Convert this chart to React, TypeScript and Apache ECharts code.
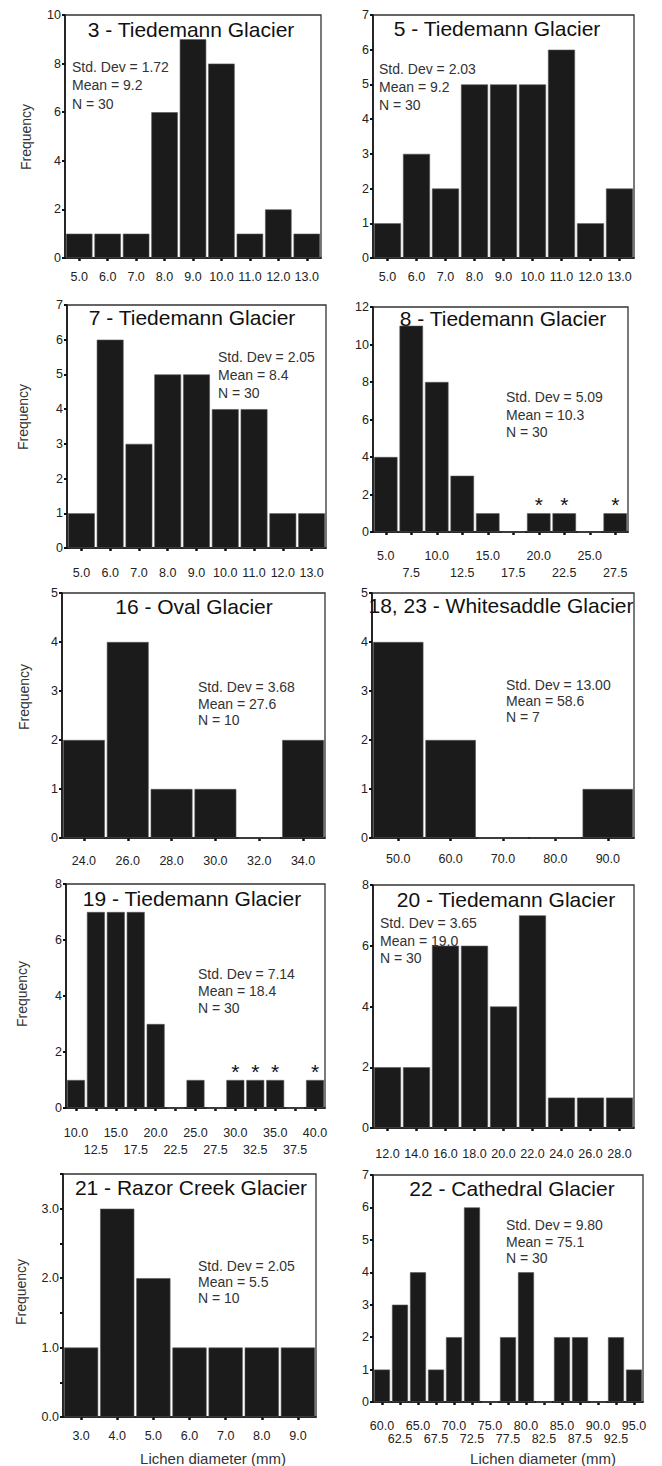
import React, { useEffect, useRef } from "react";
import * as echarts from "echarts";

// ---------- DATA ----------
const p1Bins = ["5.0", "6.0", "7.0", "8.0", "9.0", "10.0", "11.0", "12.0", "13.0"];
const p1Freq = [1, 1, 1, 6, 9, 8, 1, 2, 1];
const p1Stats = ["Std. Dev = 1.72", "Mean = 9.2", "N = 30"];

const p2Bins = ["5.0", "6.0", "7.0", "8.0", "9.0", "10.0", "11.0", "12.0", "13.0"];
const p2Freq = [1, 3, 2, 5, 5, 5, 6, 1, 2];
const p2Stats = ["Std. Dev = 2.03", "Mean = 9.2", "N = 30"];

const p3Bins = ["5.0", "6.0", "7.0", "8.0", "9.0", "10.0", "11.0", "12.0", "13.0"];
const p3Freq = [1, 6, 3, 5, 5, 4, 4, 1, 1];
const p3Stats = ["Std. Dev = 2.05", "Mean = 8.4", "N = 30"];

const p4Bins = ["5.0", "7.5", "10.0", "12.5", "15.0", "17.5", "20.0", "22.5", "25.0", "27.5"];
const p4Freq = [4, 11, 8, 3, 1, 0, 1, 1, 0, 1];
const p4Outliers = ["20.0", "22.5", "27.5"];
const p4Stats = ["Std. Dev = 5.09", "Mean = 10.3", "N = 30"];

const p5Bins = ["24.0", "26.0", "28.0", "30.0", "32.0", "34.0"];
const p5Freq = [2, 4, 1, 1, 0, 2];
const p5Stats = ["Std. Dev = 3.68", "Mean = 27.6", "N = 10"];

const p6Bins = ["50.0", "60.0", "70.0", "80.0", "90.0"];
const p6Freq = [4, 2, 0, 0, 1];
const p6Stats = ["Std. Dev = 13.00", "Mean = 58.6", "N = 7"];

const p7Bins = ["10.0", "12.5", "15.0", "17.5", "20.0", "22.5", "25.0", "27.5", "30.0", "32.5", "35.0", "37.5", "40.0"];
const p7Freq = [1, 7, 7, 7, 3, 0, 1, 0, 1, 1, 1, 0, 1];
const p7Outliers = ["30.0", "32.5", "35.0", "40.0"];
const p7Stats = ["Std. Dev = 7.14", "Mean = 18.4", "N = 30"];

const p8Bins = ["12.0", "14.0", "16.0", "18.0", "20.0", "22.0", "24.0", "26.0", "28.0"];
const p8Freq = [2, 2, 6, 6, 4, 7, 1, 1, 1];
const p8Stats = ["Std. Dev = 3.65", "Mean = 19.0", "N = 30"];

const p9Bins = ["3.0", "4.0", "5.0", "6.0", "7.0", "8.0", "9.0"];
const p9Freq = [1, 3, 2, 1, 1, 1, 1];
const p9Stats = ["Std. Dev = 2.05", "Mean = 5.5", "N = 10"];

const p10Bins = ["60.0", "62.5", "65.0", "67.5", "70.0", "72.5", "75.0", "77.5", "80.0", "82.5", "85.0", "87.5", "90.0", "92.5", "95.0"];
const p10Freq = [1, 3, 4, 1, 2, 6, 0, 2, 4, 0, 2, 2, 0, 2, 1];
const p10Stats = ["Std. Dev = 9.80", "Mean = 75.1", "N = 30"];

const titles = [
  "3 - Tiedemann Glacier",
  "5 - Tiedemann Glacier",
  "7 - Tiedemann Glacier",
  "8 - Tiedemann Glacier",
  "16 - Oval Glacier",
  "18, 23 - Whitesaddle Glacier",
  "19 - Tiedemann Glacier",
  "20 - Tiedemann Glacier",
  "21 - Razor Creek Glacier",
  "22 - Cathedral Glacier",
];
const yAxisTitle = "Frequency";
const xAxisTitle = "Lichen diameter (mm)";

// ---------- LAYOUT ----------
const FONT = "'Liberation Sans', Arial, Helvetica, sans-serif";

type Panel = {
  bins: string[];
  freq: number[];
  stats: string[];
  outliers: string[];
  yMax: number;
  yInt: number;
  yDec: number;
  grid: { left: number; top: number; width: number; height: number };
  title: [number, number];
  statPos: [number, number, number];
  labelOff: number;
  twoRow: number;
  freqPos: [number, number] | null;
  xName: [number, number] | null;
};

const panels: Panel[] = [
  { bins: p1Bins, freq: p1Freq, stats: p1Stats, outliers: [], yMax: 10, yInt: 2, yDec: 0,
    grid: { left: 65, top: 15, width: 256, height: 243 }, title: [191, 29], statPos: [72, 67, 18.3],
    labelOff: 18.5, twoRow: 0, freqPos: [26, 137], xName: null },
  { bins: p2Bins, freq: p2Freq, stats: p2Stats, outliers: [], yMax: 7, yInt: 1, yDec: 0,
    grid: { left: 373, top: 15, width: 261, height: 243 }, title: [497, 28], statPos: [379, 69, 18],
    labelOff: 18.5, twoRow: 0, freqPos: null, xName: null },
  { bins: p3Bins, freq: p3Freq, stats: p3Stats, outliers: [], yMax: 7, yInt: 1, yDec: 0,
    grid: { left: 67, top: 305, width: 259, height: 243 }, title: [192, 317], statPos: [218, 357, 18],
    labelOff: 25, twoRow: 0, freqPos: [23, 417], xName: null },
  { bins: p4Bins, freq: p4Freq, stats: p4Stats, outliers: p4Outliers, yMax: 12, yInt: 2, yDec: 0,
    grid: { left: 373, top: 307, width: 255, height: 225 }, title: [503, 318], statPos: [506, 397, 17.5],
    labelOff: 24.3, twoRow: 16.5, freqPos: null, xName: null },
  { bins: p5Bins, freq: p5Freq, stats: p5Stats, outliers: [], yMax: 5, yInt: 1, yDec: 0,
    grid: { left: 62, top: 593, width: 263, height: 245 }, title: [194, 606], statPos: [198, 687, 16.5],
    labelOff: 23.4, twoRow: 0, freqPos: [24, 697], xName: null },
  { bins: p6Bins, freq: p6Freq, stats: p6Stats, outliers: [], yMax: 5, yInt: 1, yDec: 0,
    grid: { left: 372, top: 593, width: 262, height: 245 }, title: [501, 605], statPos: [506, 685, 16],
    labelOff: 21, twoRow: 0, freqPos: null, xName: null },
  { bins: p7Bins, freq: p7Freq, stats: p7Stats, outliers: p7Outliers, yMax: 8, yInt: 2, yDec: 0,
    grid: { left: 66, top: 884, width: 259, height: 224 }, title: [192, 898], statPos: [198, 974, 17],
    labelOff: 25, twoRow: 16.7, freqPos: [22, 994], xName: null },
  { bins: p8Bins, freq: p8Freq, stats: p8Stats, outliers: [], yMax: 8, yInt: 2, yDec: 0,
    grid: { left: 373, top: 885, width: 261, height: 243 }, title: [506, 899], statPos: [380, 923, 17.5],
    labelOff: 25.6, twoRow: 0, freqPos: null, xName: null },
  { bins: p9Bins, freq: p9Freq, stats: p9Stats, outliers: [], yMax: 3.5, yInt: 0.5, yDec: 1,
    grid: { left: 63, top: 1174, width: 253, height: 243 }, title: [191, 1187], statPos: [198, 1266, 16],
    labelOff: 19.3, twoRow: 0, freqPos: [21, 1292], xName: [213, 1458] },
  { bins: p10Bins, freq: p10Freq, stats: p10Stats, outliers: [], yMax: 7, yInt: 1, yDec: 0,
    grid: { left: 373, top: 1175, width: 270, height: 227 }, title: [512, 1188], statPos: [506, 1225, 16.5],
    labelOff: 24.3, twoRow: 12.6, freqPos: null, xName: [543, 1458] },
];

function buildOption() {
  const grid: any[] = [];
  const xAxis: any[] = [];
  const yAxis: any[] = [];
  const series: any[] = [];
  const graphic: any[] = [];

  panels.forEach((p, i) => {
    grid.push({
      left: p.grid.left,
      top: p.grid.top,
      width: p.grid.width,
      height: p.grid.height,
      show: true,
      borderColor: "#333",
      borderWidth: 1.3,
      backgroundColor: "transparent",
    });
    const binW = p.grid.width / p.bins.length;
    const lh = p.twoRow || 14;
    xAxis.push({
      type: "category",
      gridIndex: i,
      data: p.bins,
      boundaryGap: true,
      axisLine: { show: true, lineStyle: { color: "#111", width: 1.6 } },
      axisTick: { show: true, alignWithLabel: true, interval: 0, length: 3, lineStyle: { color: "#111", width: 2.5 } },
      axisLabel: {
        show: true,
        interval: 0,
        hideOverlap: false,
        color: "#222",
        fontFamily: FONT,
        fontSize: 12.5,
        lineHeight: lh,
        margin: p.labelOff - lh / 2,
        formatter: (v: string, idx: number) => (p.twoRow && idx % 2 === 1 ? "\n" + v : v),
      },
      splitLine: { show: false },
    });
    yAxis.push({
      type: "value",
      gridIndex: i,
      min: 0,
      max: p.yMax,
      interval: p.yInt,
      axisLine: { show: true, lineStyle: { color: "#111", width: 1.6 } },
      axisTick: { show: true, length: 3, lineStyle: { color: "#111", width: 2 } },
      axisLabel: {
        color: "#222",
        fontFamily: FONT,
        fontSize: 12.5,
        margin: 4,
        formatter: (v: number) =>
          p.yDec ? (Math.abs(v - Math.round(v)) < 1e-9 ? v.toFixed(1) : "") : String(v),
      },
      splitLine: { show: false },
    });
    series.push({
      type: "bar",
      xAxisIndex: i,
      yAxisIndex: i,
      barCategoryGap: ((2 / binW) * 100).toFixed(1) + "%",
      itemStyle: { color: "#1b1b1b", borderColor: "#555", borderWidth: 0.6 },
      label: {
        show: false,
        position: "top",
        distance: -2,
        formatter: "*",
        fontFamily: FONT,
        fontSize: 21,
        color: "#111",
      },
      data: p.freq.map((v, j) =>
        p.outliers.includes(p.bins[j]) ? { value: v, label: { show: true } } : v
      ),
    });

    graphic.push({
      type: "text",
      x: p.title[0],
      y: p.title[1],
      style: {
        text: titles[i],
        font: `21px ${FONT}`,
        fill: "#111",
        textAlign: "center",
        textVerticalAlign: "middle",
      },
    });
    p.stats.forEach((s, k) => {
      graphic.push({
        type: "text",
        x: p.statPos[0],
        y: p.statPos[1] + k * p.statPos[2],
        style: {
          text: s,
          font: `14px ${FONT}`,
          fill: "#333",
          textAlign: "left",
          textVerticalAlign: "middle",
        },
      });
    });
    if (p.freqPos) {
      graphic.push({
        type: "text",
        x: p.freqPos[0],
        y: p.freqPos[1],
        rotation: Math.PI / 2,
        style: {
          text: yAxisTitle,
          font: `14px ${FONT}`,
          fill: "#333",
          textAlign: "center",
          textVerticalAlign: "middle",
        },
      });
    }
    if (p.xName) {
      graphic.push({
        type: "text",
        x: p.xName[0],
        y: p.xName[1],
        style: {
          text: xAxisTitle,
          font: `15px ${FONT}`,
          fill: "#333",
          textAlign: "center",
          textVerticalAlign: "middle",
        },
      });
    }
  });

  return {
    animation: false,
    backgroundColor: "#ffffff",
    grid,
    xAxis,
    yAxis,
    series,
    graphic: { elements: graphic },
  };
}

export default function App() {
  const ref = useRef<HTMLDivElement>(null);
  useEffect(() => {
    if (!ref.current) return;
    const chart = echarts.init(ref.current, null, { renderer: "svg" });
    chart.setOption(buildOption() as any);
    return () => chart.dispose();
  }, []);
  return (
    <div
      ref={ref}
      style={{ position: "absolute", left: 0, top: 0, width: 662, height: 1466, background: "#fff" }}
    />
  );
}
